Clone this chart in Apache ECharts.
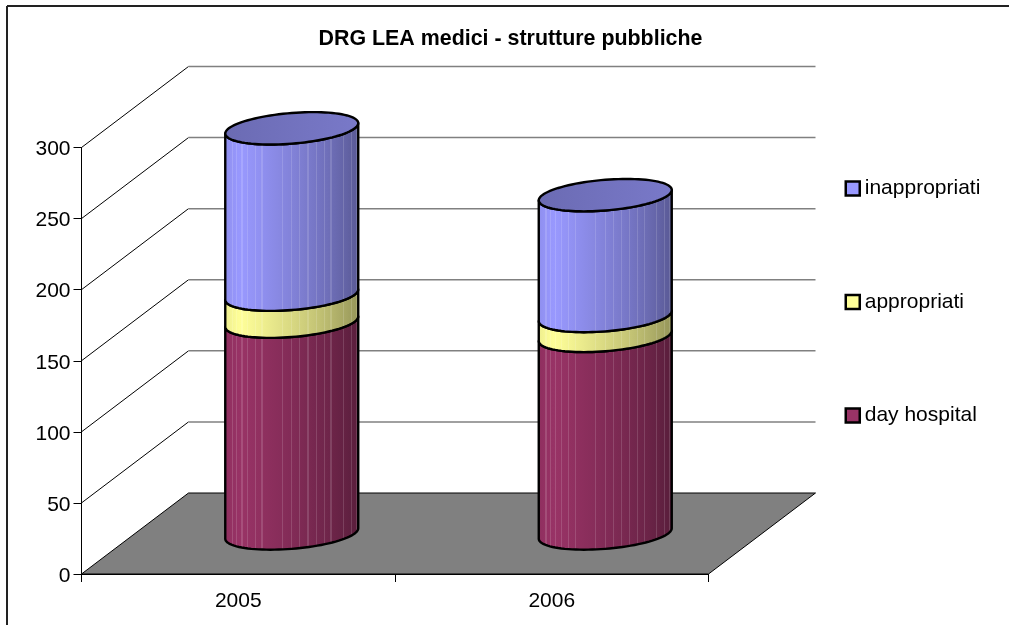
<!DOCTYPE html>
<html>
<head>
<meta charset="utf-8">
<style>html,body{margin:0;padding:0;background:#fff}#c{width:1009px;height:625px}</style>
<script src="https://cdn.jsdelivr.net/npm/echarts@6/dist/echarts.min.js"></script>
</head>
<body>
<div id="c"></div>
<script>
const titleText = 'DRG LEA medici - strutture pubbliche';
const categories = ['2005', '2006'];
const dayHospital = [149, 139];
const appropriati = [19, 14];
const inappropriati = [117, 85];
const yTicks = [0, 50, 100, 150, 200, 250, 300];

const FONT = '"Liberation Sans", Arial, sans-serif';
const DX = 107, DY = -81;              // oblique depth vector of the 3D box
const HALF_W = 0.2121, SHEAR = 0.2;    // cylinder half-width (share of band), radius (share of depth)
const shade = [[0, .93], [.12, 1], [.3, .93], [.5, .85], [.7, .76], [.85, .68], [1, .58]];
const stripes = [.0625, .095, .1325, .175, .23, .28, .43, .5, .56, .62, .68, .74, .79, .88, .94, .975];

function mul(rgb, k, w) {
  const c = rgb.map(v => Math.round((v * k) * (1 - w) + 255 * w));
  return 'rgb(' + c.join(',') + ')';
}
function shadeAt(t) {
  for (let i = 1; i < shade.length; i++) {
    if (t <= shade[i][0]) {
      const a = shade[i - 1], b = shade[i];
      return a[1] + (b[1] - a[1]) * (t - a[0]) / (b[0] - a[0]);
    }
  }
  return 1;
}
function sideFill(rgb) {
  const stops = [];
  const push = (o, col) => stops.push({ offset: o, color: col });
  push(0, mul(rgb, shadeAt(0), 0));
  stripes.forEach(s => {
    const a = s - .004, b = s + .004;
    push(a, mul(rgb, shadeAt(a), 0));
    push(a, mul(rgb, shadeAt(s), .14));
    push(b, mul(rgb, shadeAt(s), .14));
    push(b, mul(rgb, shadeAt(b), 0));
  });
  push(1, mul(rgb, shadeAt(1), 0));
  return new echarts.graphic.LinearGradient(0, 0, 1, 0, stops);
}

function ellipseGeom(api) {
  const band = api.size([1, 0])[0];
  const bx = SHEAR * DX, d = SHEAR * -DY;
  const half = HALF_W * band;
  const a = Math.sqrt(half * half - bx * bx);
  return { a, bx, d, th0: Math.atan2(bx, a) };
}
function pt(c, g, th) {
  return [c[0] + g.a * Math.cos(th) + g.bx * Math.sin(th), c[1] - g.d * Math.sin(th)];
}
function frontArc(c, g, reverse) {
  const pts = [];
  const N = 48;
  for (let i = 0; i <= N; i++) {
    const th = g.th0 - Math.PI * i / N;
    pts.push(pt(c, g, th));
  }
  return reverse ? pts.reverse() : pts;
}
function centerAt(api, idx, val) {
  const p = api.coord([idx, val]);
  return [p[0] + DX / 2, p[1] + DY / 2];
}

function cylinderRender(rgb, withCap) {
  const fill = sideFill(rgb);
  return function (params, api) {
    const idx = api.value(0), lo = api.value(1), hi = api.value(2);
    const g = ellipseGeom(api);
    const cLo = centerAt(api, idx, lo), cHi = centerAt(api, idx, hi);
    const children = [{
      type: 'polygon',
      shape: { points: frontArc(cLo, g, false).concat(frontArc(cHi, g, true)) },
      style: { fill: fill, stroke: '#000', lineWidth: 2.4, lineJoin: 'round' }
    }];
    if (withCap) {
      const pts = [];
      for (let i = 0; i < 96; i++) pts.push(pt(cHi, g, 2 * Math.PI * i / 96));
      children.push({
        type: 'polygon',
        shape: { points: pts },
        style: {
          fill: new echarts.graphic.LinearGradient(0, 0, 1, 0, [
            { offset: 0, color: mul(rgb, .70, 0) },
            { offset: 1, color: mul(rgb, .79, 0) }
          ]),
          stroke: '#000', lineWidth: 2.4
        }
      });
    }
    return { type: 'group', children };
  };
}

function stackData(lower, values) {
  return categories.map((_, i) => [i, lower[i], lower[i] + values[i]]);
}
const zero = categories.map(() => 0);
const top1 = dayHospital.slice();
const top2 = dayHospital.map((v, i) => v + appropriati[i]);

function wallRender(params, api) {
  const cs = params.coordSys;
  const v = api.value(0);
  const yy = api.coord([0, v])[1];
  const x0 = cs.x, x1 = cs.x + cs.width;
  if (v === 0) return { type: 'group', children: [] };
  return {
    type: 'group',
    children: [
      { type: 'line', shape: { x1: x0, y1: yy, x2: x0 + DX, y2: yy + DY }, style: { stroke: '#000', lineWidth: 1 } },
      { type: 'line', shape: { x1: x0 + DX, y1: yy + DY, x2: x1 + DX, y2: yy + DY }, style: { stroke: '#808080', lineWidth: 1.5 } }
    ]
  };
}
function floorRender(params, api) {
  const cs = params.coordSys;
  const y0 = api.coord([0, api.value(0)])[1];
  const x0 = cs.x, x1 = cs.x + cs.width;
  return {
    type: 'polygon',
    shape: { points: [[x0, y0], [x1, y0], [x1 + DX, y0 + DY], [x0 + DX, y0 + DY]] },
    style: { fill: '#808080', stroke: '#000', lineWidth: 1 }
  };
}

const chart = echarts.init(document.getElementById('c'), null, { renderer: 'canvas' });
chart.setOption({
  animation: false,
  backgroundColor: '#fff',
  title: {
    text: titleText, left: 510.5, top: 29, textAlign: 'center', padding: 0,
    textStyle: { fontFamily: FONT, fontWeight: 'bold', fontSize: 21.4, color: '#000' }
  },
  legend: {
    orient: 'vertical', left: 844.5, top: 178, padding: 0, itemWidth: 14, itemHeight: 14, itemGap: 92.5,
    icon: 'rect', selectedMode: false,
    data: ['inappropriati', 'appropriati', 'day hospital'],
    itemStyle: { borderColor: '#000', borderWidth: 2.5 },
    textStyle: { fontFamily: FONT, fontSize: 21, color: '#000', lineHeight: 18 }
  },
  grid: { left: 81.5, top: 147.5, width: 627, height: 426.5, containLabel: false },
  xAxis: {
    type: 'category', data: categories, boundaryGap: true,
    axisLine: { lineStyle: { color: '#000', width: 1 } },
    axisTick: { show: true, length: 8, alignWithLabel: false, lineStyle: { color: '#000', width: 1 } },
    axisLabel: { fontFamily: FONT, fontSize: 21, color: '#000', margin: 17 },
    splitLine: { show: false }
  },
  yAxis: {
    type: 'value', min: 0, max: 300, interval: 50,
    axisLine: { show: true, lineStyle: { color: '#000', width: 1 } },
    axisTick: { show: true, length: 8, lineStyle: { color: '#000', width: 1 } },
    axisLabel: { fontFamily: FONT, fontSize: 21, color: '#000', margin: 11, verticalAlign: 'top', lineHeight: 4 },
    splitLine: { show: false }
  },
  graphic: [
    { type: 'line', silent: true, shape: { x1: 7, y1: 6, x2: 1009, y2: 6 }, style: { stroke: '#222', lineWidth: 2 } },
    { type: 'line', silent: true, shape: { x1: 7, y1: 6, x2: 7, y2: 625 }, style: { stroke: '#222', lineWidth: 2 } }
  ],
  series: [
    { type: 'custom', name: 'walls', coordinateSystem: 'cartesian2d', silent: true, clip: false, z: 1,
      encode: { x: 1, y: 0 }, data: yTicks.map(v => [v, 0]), renderItem: wallRender },
    { type: 'custom', name: 'floor', coordinateSystem: 'cartesian2d', silent: true, clip: false, z: 1,
      encode: { x: 1, y: 0 }, data: [[0, 0]], renderItem: floorRender },
    { type: 'custom', name: 'day hospital', coordinateSystem: 'cartesian2d', clip: false, z: 3,
      itemStyle: { color: '#993366' }, encode: { x: 0, y: 2 },
      data: stackData(zero, dayHospital), renderItem: cylinderRender([153, 51, 102], false) },
    { type: 'custom', name: 'appropriati', coordinateSystem: 'cartesian2d', clip: false, z: 4,
      itemStyle: { color: '#FFFF99' }, encode: { x: 0, y: 2 },
      data: stackData(top1, appropriati), renderItem: cylinderRender([255, 255, 153], false) },
    { type: 'custom', name: 'inappropriati', coordinateSystem: 'cartesian2d', clip: false, z: 5,
      itemStyle: { color: '#9999FF' }, encode: { x: 0, y: 2 },
      data: stackData(top2, inappropriati), renderItem: cylinderRender([153, 153, 255], true) }
  ]
});
</script>
</body>
</html>
